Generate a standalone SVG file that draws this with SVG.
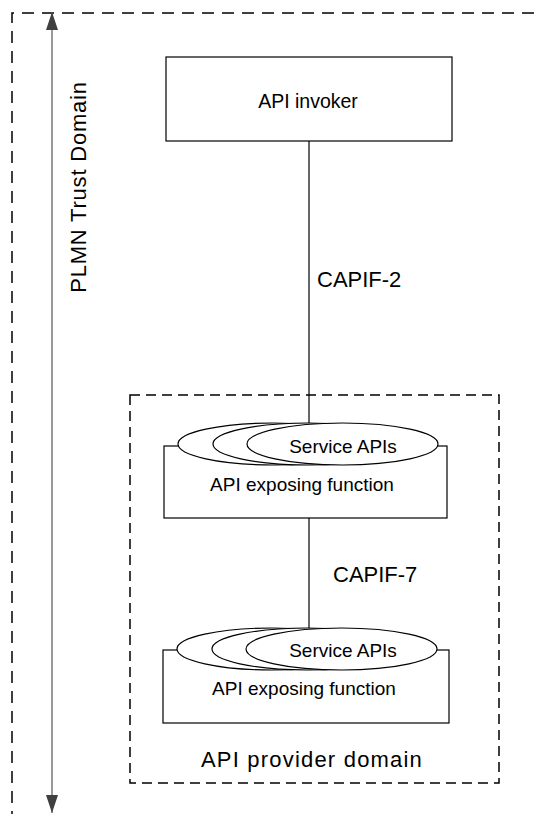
<svg xmlns="http://www.w3.org/2000/svg" width="534" height="814" viewBox="0 0 534 814">
<style>
.t{font-family:"Liberation Sans","DejaVu Sans",sans-serif;fill:#000}
.box{fill:#fff;stroke:#000;stroke-width:1.2}
.ell{fill:#fff;stroke:#000;stroke-width:1.2}
.dash{fill:none;stroke:#000;stroke-width:1.5}
.ln{stroke:#000;stroke-width:1.2;fill:none}
</style>
<defs>
<marker id="ah" viewBox="0 0 18 12" refX="18" refY="6" markerWidth="18" markerHeight="12" markerUnits="userSpaceOnUse" orient="auto-start-reverse">
<path d="M0,0 L18,6 L0,12 z" fill="#404040"/>
</marker>
</defs>
<g id="plmn-domain">
<path class="dash" stroke-dasharray="12,8" d="M534,13 H12 V814"/>
<line x1="52" y1="12" x2="52" y2="813" stroke="#555" stroke-width="1.2" marker-start="url(#ah)" marker-end="url(#ah)"/>
<text class="t" font-size="22" letter-spacing="0.8" transform="translate(86,187) rotate(-90)" text-anchor="middle">PLMN Trust Domain</text>
</g>
<g id="provider-domain">
<rect class="dash" stroke-dasharray="10,6" x="130" y="395" width="369" height="388"/>
<text class="t" font-size="22" letter-spacing="1.2" x="312" y="767" text-anchor="middle">API provider domain</text>
</g>
<g id="connectors">
<line class="ln" x1="309" y1="141" x2="309" y2="424"/>
<text class="t" font-size="22" x="317" y="287">CAPIF-2</text>
<line class="ln" x1="309" y1="518" x2="309" y2="629"/>
<text class="t" font-size="22" x="333" y="582">CAPIF-7</text>
</g>
<g id="api-invoker">
<rect class="box" x="166" y="57" width="286" height="84"/>
<text class="t" font-size="19.5" x="308" y="108" text-anchor="middle">API invoker</text>
</g>
<g id="aef1">
<rect class="box" x="164" y="446" width="283" height="72"/>
<ellipse class="ell" cx="273" cy="444" rx="95" ry="21"/>
<ellipse class="ell" cx="308" cy="444" rx="95" ry="21"/>
<ellipse class="ell" cx="342.5" cy="444" rx="95.5" ry="21"/>
<text class="t" font-size="19" x="343" y="453" text-anchor="middle">Service APIs</text>
<text class="t" font-size="19" x="302" y="491" text-anchor="middle">API exposing function</text>
</g>
<g id="aef2">
<rect class="box" x="163" y="650" width="286" height="73"/>
<ellipse class="ell" cx="272" cy="649" rx="95" ry="21"/>
<ellipse class="ell" cx="307" cy="649" rx="95" ry="21"/>
<ellipse class="ell" cx="341.5" cy="649" rx="95.5" ry="21"/>
<text class="t" font-size="19" x="343" y="657" text-anchor="middle">Service APIs</text>
<text class="t" font-size="19" x="304" y="695" text-anchor="middle">API exposing function</text>
</g>
</svg>
